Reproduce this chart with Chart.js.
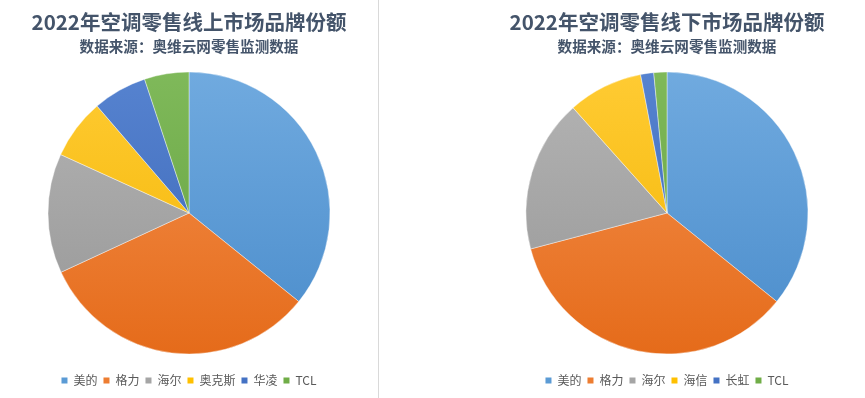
<!DOCTYPE html>
<html>
<head>
<meta charset="utf-8">
<script src="https://cdn.jsdelivr.net/npm/chart.js@4/dist/chart.umd.min.js"></script>
<style>
  html, body { margin: 0; padding: 0; background: #fff; }
  body { width: 865px; height: 398px; position: relative; overflow: hidden; }
  #sep { position: absolute; left: 378px; top: 0; width: 1px; height: 398px; background: #d9d9d9; }
  #w1 { position: absolute; left: 0; top: 0; width: 378px; height: 398px; }
  #w2 { position: absolute; left: 469px; top: 0; width: 396px; height: 398px; }
</style>
</head>
<body>
<div id="sep"></div>
<div id="w1"><canvas id="c1"></canvas></div>
<div id="w2"><canvas id="c2"></canvas></div>
<script>
// ---- data ----
const onlineTitle = '2022年空调零售线上市场品牌份额';
const offlineTitle = '2022年空调零售线下市场品牌份额';
const sourceText = '数据来源：奥维云网零售监测数据';
const onlineBrands = ['美的', '格力', '海尔', '奥克斯', '华凌', 'TCL'];
const onlineShare = [35.8, 32.3, 13.7, 6.9, 6.2, 5.1];
const offlineBrands = ['美的', '格力', '海尔', '海信', '长虹', 'TCL'];
const offlineShare = [35.8, 35.1, 17.5, 8.6, 1.5, 1.5];

// ---- styles ----
const baseColors = ['#5B9BD5', '#ED7D31', '#A5A5A5', '#FFC000', '#4472C4', '#70AD47'];
const topColors  = ['#70AADF', '#F4914F', '#B4B4B4', '#FFCB33', '#5683D0', '#7FB95A'];
const botColors  = ['#4A8CCB', '#E56B1A', '#969696', '#F2B400', '#3A65B5', '#63A03D'];
const RADIUS = 141;

function sliceColor(ctx) {
  const i = ctx.dataIndex;
  const chart = ctx.chart;
  const area = chart.chartArea;
  if (!area || ctx.type !== 'data') return baseColors[i];
  const cy = (area.top + area.bottom) / 2;
  const g = chart.ctx.createLinearGradient(0, cy - RADIUS, 0, cy + RADIUS);
  g.addColorStop(0, topColors[i]);
  g.addColorStop(1, botColors[i]);
  return g;
}

function makeChart(id, title, labels, values) {
  return new Chart(document.getElementById(id), {
    type: 'pie',
    data: {
      labels: labels,
      datasets: [{
        data: values,
        backgroundColor: sliceColor,
        borderColor: 'rgba(255,255,255,0.5)',
        borderWidth: 0.8,
        radius: RADIUS
      }]
    },
    options: {
      responsive: true,
      maintainAspectRatio: false,
      animation: false,
      layout: { padding: { top: 0, bottom: 1.5, left: 0, right: 0 } },
      plugins: {
        title: {
          display: true,
          text: title,
          color: '#44546A',
          font: { family: '"Noto Sans CJK SC", "Noto Sans", sans-serif', size: 20.5, weight: 'bold', lineHeight: 1.2 },
          padding: { top: 10.4, bottom: 2 }
        },
        subtitle: {
          display: true,
          text: sourceText,
          color: '#44546A',
          font: { family: '"Noto Sans CJK SC", "Noto Sans", sans-serif', size: 14.6, weight: 'bold', lineHeight: 1.2 },
          padding: { top: 0.9, bottom: 2.1 }
        },
        legend: {
          display: true,
          position: 'bottom',
          labels: {
            boxWidth: 6,
            boxHeight: 6,
            padding: 6,
            color: '#595959',
            font: { family: '"Noto Sans CJK SC", "Noto Sans", sans-serif', size: 12 },
            generateLabels: function(chart) {
              return chart.data.labels.map((l, i) => ({
                text: l,
                fillStyle: baseColors[i],
                strokeStyle: baseColors[i],
                lineWidth: 0,
                hidden: false,
                index: i,
                fontColor: '#595959'
              }));
            }
          }
        },
        tooltip: { enabled: false }
      }
    }
  });
}

makeChart('c1', onlineTitle, onlineBrands, onlineShare);
makeChart('c2', offlineTitle, offlineBrands, offlineShare);
</script>
</body>
</html>
